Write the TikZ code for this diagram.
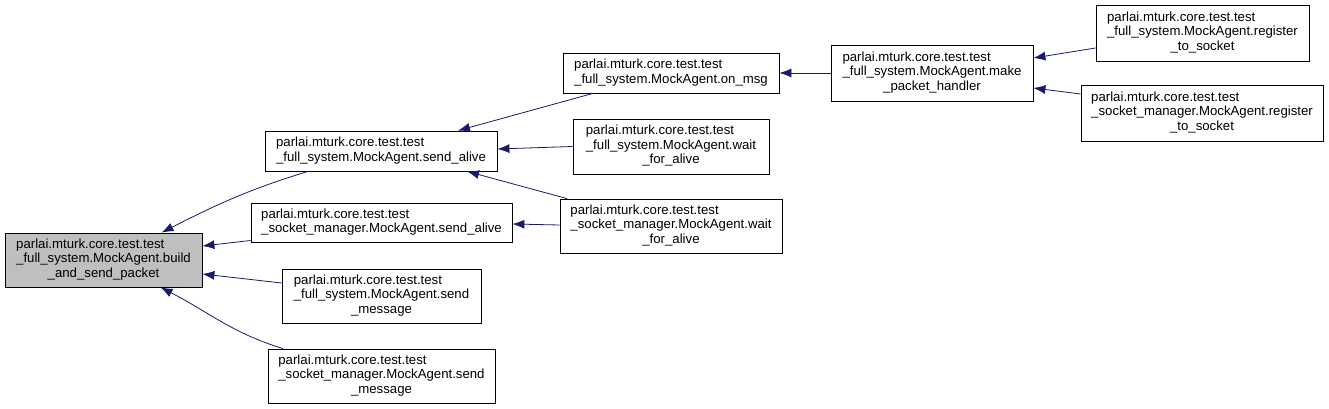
\documentclass[tikz,border=0pt]{standalone}
\usepackage{fontspec}
\setmainfont{Liberation Sans}
\usetikzlibrary{arrows.meta}
\definecolor{edgeblue}{HTML}{191970}
\definecolor{focusgray}{HTML}{BFBFBF}
% left-aligned upper lines, centred last line (doxygen style)
\newcommand{\fnlabel}[2]{\begin{tabular}{@{}l@{}}#1\\\multicolumn{1}{@{}c@{}}{#2}\end{tabular}}

\begin{document}
\begin{tikzpicture}[x=1pt,y=1pt,>={Latex[length=12pt,width=9pt]},font=\fontsize{13.2}{14.5}\selectfont,
  fn/.style n args={2}{draw,line width=0.8pt,inner sep=0pt,minimum width=#1,minimum height=#2},
  call/.style={->,edgeblue,line width=0.8pt}]
\useasboundingbox (0,0) rectangle (1329,409);
% functions
\node[fn={197}{54},fill=focusgray] (build) at (103.5,149){\fnlabel{parlai.mturk.core.test.test\\\_full\_system.MockAgent.build}{\_and\_send\_packet}};
\node[fn={232}{40}] (fsalive) at (381,258){\fnlabel{parlai.mturk.core.test.test}{\_full\_system.MockAgent.send\_alive}};
\node[fn={261}{39}] (ssalive) at (381.5,186.5){\fnlabel{parlai.mturk.core.test.test}{\_socket\_manager.MockAgent.send\_alive}};
\node[fn={199}{54}] (fsmsg) at (381.5,113){\fnlabel{parlai.mturk.core.test.test\\\_full\_system.MockAgent.send}{\_message}};
\node[fn={227}{54}] (ssmsg) at (381.5,33){\fnlabel{parlai.mturk.core.test.test\\\_socket\_manager.MockAgent.send}{\_message}};
\node[fn={216}{40}] (onmsg) at (671,336){\fnlabel{parlai.mturk.core.test.test}{\_full\_system.MockAgent.on\_msg}};
\node[fn={196}{55}] (fswait) at (671,262.5){\fnlabel{parlai.mturk.core.test.test\\\_full\_system.MockAgent.wait}{\_for\_alive}};
\node[fn={222}{54}] (sswait) at (671,183){\fnlabel{parlai.mturk.core.test.test\\\_socket\_manager.MockAgent.wait}{\_for\_alive}};
\node[fn={202}{56}] (handler) at (932,336){\fnlabel{parlai.mturk.core.test.test\\\_full\_system.MockAgent.make}{\_packet\_handler}};
\node[fn={213}{56}] (fsreg) at (1202.5,376){\fnlabel{parlai.mturk.core.test.test\\\_full\_system.MockAgent.register}{\_to\_socket}};
\node[fn={242}{56}] (ssreg) at (1202,296){\fnlabel{parlai.mturk.core.test.test\\\_socket\_manager.MockAgent.register}{\_to\_socket}};
% calls
\draw[call] ([xshift=-73pt]fsalive.south) to[out=197,in=27] ([xshift=58pt]build.north);
\draw[call] ([yshift=-18pt]ssalive.west) -- ([yshift=14pt]build.east);
\draw[call] ([yshift=13pt]fsmsg.west) -- ([yshift=-14pt]build.east);
\draw[call] ([xshift=-98.5pt]ssmsg.north) to[out=163,in=-27] ([xshift=57pt]build.south);
\draw[call] ([xshift=-78pt]onmsg.south) -- ([xshift=77pt]fsalive.north);
\draw[call] (fswait.west) -- ([yshift=2pt]fsalive.east);
\draw[call] ([xshift=-104pt]sswait.north) -- ([xshift=86pt]fsalive.south);
\draw[call] ([yshift=1pt]sswait.west) -- ([yshift=-1.5pt]ssalive.east);
\draw[call] (handler.west) -- (onmsg.east);
\draw[call] ([yshift=-15pt]fsreg.west) -- ([yshift=15pt]handler.east);
\draw[call] ([yshift=19pt]ssreg.west) -- ([yshift=-15pt]handler.east);
\end{tikzpicture}
\end{document}
